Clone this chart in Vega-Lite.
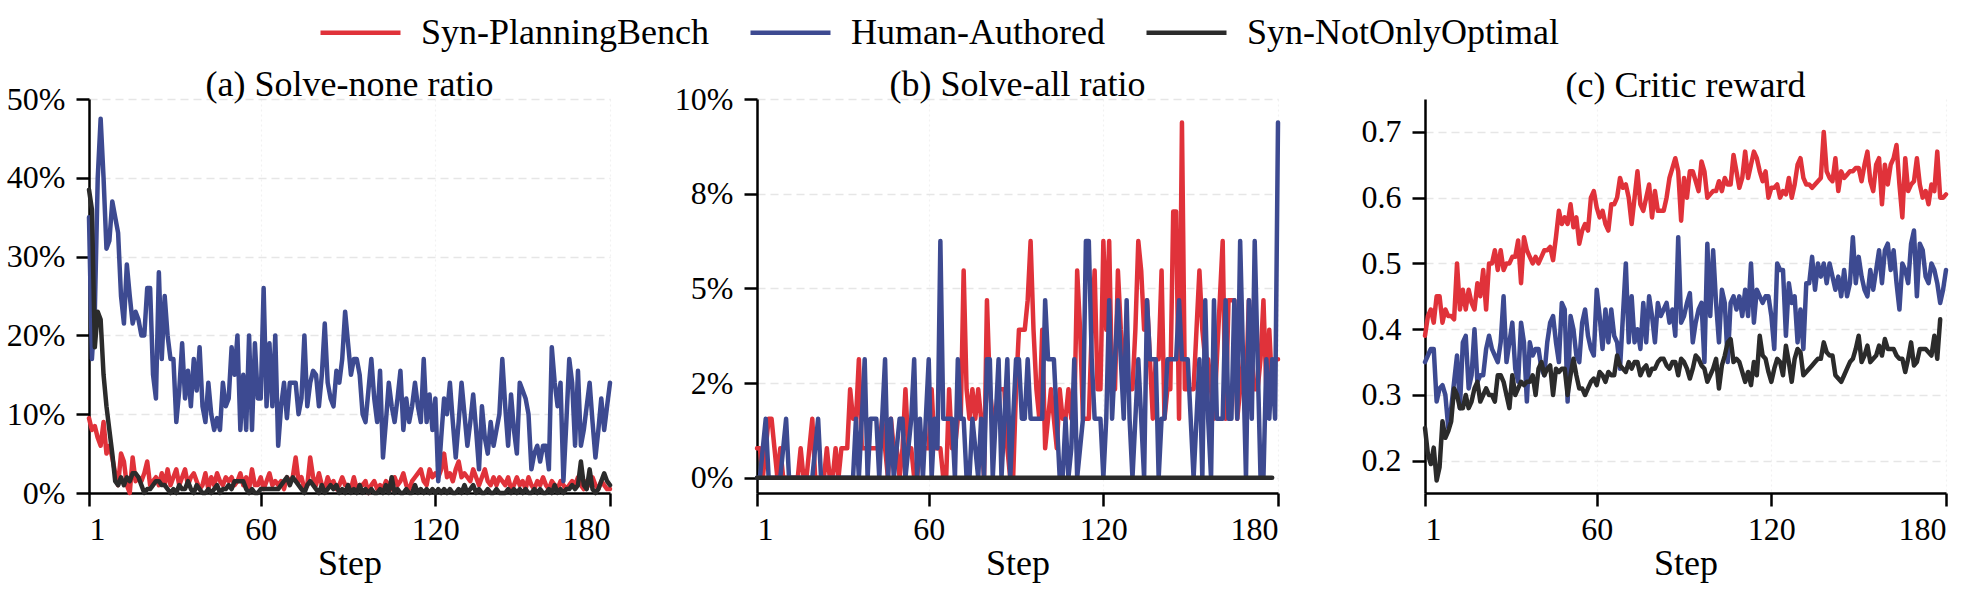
{
"$schema": "https://vega.github.io/schema/vega-lite/v6.json",
"background": "white",
"padding": {"left": 6, "top": -10, "right": 5, "bottom": 5},
"config": {
  "font": "Liberation Serif",
  "view": {"stroke": null},
  "axis": {"domainColor": "black", "domainWidth": 2.5, "tickColor": "black", "tickWidth": 2.5, "tickSize": 13, "labelFont": "Liberation Serif", "labelFontSize": 32, "labelColor": "black", "labelPadding": 11, "titleFont": "Liberation Serif", "titleFontSize": 36, "titleFontWeight": "normal", "titleColor": "black", "gridColor": "#e6e6e6", "gridDash": [8, 5], "gridWidth": 1.5},
  "axisX": {"gridColor": "#f2f2f2", "gridDash": [2, 3], "gridWidth": 1.2, "labelPadding": 8, "titlePadding": 1},
  "title": {"font": "Liberation Serif", "fontSize": 36, "fontWeight": "normal", "color": "black", "frame": "group", "anchor": "middle", "offset": 8, "baseline": "alphabetic"},
  "legend": {"labelFont": "Liberation Serif", "labelFontSize": 36, "labelColor": "black", "labelLimit": 0}
},
"datasets": {
"a": [
{"step":1,"P":9.5,"H":35,"N":38.5},{"step":2,"P":8,"H":17,"N":36},{"step":3,"P":8.5,"H":23,"N":18.5},{"step":4,"P":7,"H":40,"N":23},{"step":5,"P":6,"H":47.5,"N":22},{"step":6,"P":9,"H":40,"N":15},{"step":7,"P":5,"H":31,"N":11},{"step":8,"P":6,"H":32,"N":8},{"step":9,"P":4.5,"H":37,"N":5},{"step":10,"P":2.5,"H":35,"N":1.5},
{"step":11,"P":1,"H":33,"N":1},{"step":12,"P":5,"H":25,"N":2},{"step":13,"P":4,"H":21.5,"N":1},{"step":14,"P":1,"H":29,"N":2},{"step":15,"P":0,"H":25,"N":1.5},{"step":16,"P":4.5,"H":21.5,"N":2.5},{"step":17,"P":1.5,"H":23,"N":2.5},{"step":18,"P":2,"H":22,"N":2},{"step":19,"P":1.5,"H":20,"N":1},{"step":20,"P":2.5,"H":20,"N":0},
{"step":21,"P":4,"H":26,"N":0.5},{"step":22,"P":1,"H":26,"N":0.5},{"step":23,"P":1.5,"H":15,"N":1},{"step":24,"P":2,"H":12,"N":1.5},{"step":25,"P":1,"H":28,"N":1.5},{"step":26,"P":2.5,"H":17,"N":1},{"step":27,"P":1,"H":25,"N":1},{"step":28,"P":3,"H":20,"N":0.5},{"step":29,"P":1,"H":17,"N":0},{"step":30,"P":2,"H":17,"N":0.5},
{"step":31,"P":3,"H":9,"N":0},{"step":32,"P":1,"H":13,"N":1},{"step":33,"P":2,"H":19,"N":0.5},{"step":34,"P":3,"H":12,"N":0.5},{"step":35,"P":1,"H":15.5,"N":1.5},{"step":36,"P":2,"H":11,"N":0.5},{"step":37,"P":2.5,"H":17,"N":0},{"step":38,"P":1.5,"H":13,"N":1},{"step":39,"P":0.5,"H":18.5,"N":0.5},{"step":40,"P":1,"H":11,"N":0},
{"step":41,"P":2.5,"H":9,"N":0},{"step":42,"P":0.5,"H":14,"N":0.5},{"step":43,"P":2,"H":10,"N":0},{"step":44,"P":1,"H":8,"N":0.5},{"step":45,"P":2.5,"H":9.5,"N":1},{"step":46,"P":1.5,"H":8,"N":0},{"step":47,"P":1,"H":14,"N":0.5},{"step":48,"P":2,"H":11,"N":0.5},{"step":49,"P":1.5,"H":12,"N":1},{"step":50,"P":2,"H":18.5,"N":0.5},
{"step":51,"P":1,"H":15,"N":1.5},{"step":52,"P":1.5,"H":20,"N":1.5},{"step":53,"P":2.5,"H":8,"N":1.5},{"step":54,"P":1,"H":15,"N":1.5},{"step":55,"P":2,"H":8,"N":0.5},{"step":56,"P":0.5,"H":20,"N":0},{"step":57,"P":3,"H":8,"N":0.5},{"step":58,"P":1,"H":19,"N":0},{"step":59,"P":1,"H":12,"N":0},{"step":60,"P":2,"H":12,"N":0.5},
{"step":61,"P":0.5,"H":26,"N":0.5},{"step":62,"P":1.5,"H":11,"N":0.5},{"step":63,"P":2.5,"H":19,"N":0.5},{"step":64,"P":1,"H":11,"N":0.5},{"step":65,"P":1.5,"H":20,"N":0.5},{"step":66,"P":1,"H":6,"N":0.5},{"step":67,"P":1.5,"H":11,"N":1},{"step":68,"P":0.5,"H":14,"N":1.5},{"step":69,"P":2,"H":9.5,"N":2},{"step":70,"P":1.5,"H":14,"N":1},
{"step":71,"P":2,"H":14,"N":2},{"step":72,"P":4.5,"H":14,"N":1.5},{"step":73,"P":1.5,"H":10,"N":1},{"step":74,"P":2,"H":12,"N":0.5},{"step":75,"P":0.5,"H":20,"N":0},{"step":76,"P":1,"H":11,"N":1},{"step":77,"P":4.5,"H":14,"N":1.5},{"step":78,"P":2,"H":15.5,"N":1},{"step":79,"P":1,"H":15,"N":0.5},{"step":80,"P":2.5,"H":11,"N":0},
{"step":81,"P":1,"H":15,"N":1},{"step":82,"P":0.5,"H":21.5,"N":0},{"step":83,"P":2,"H":14,"N":0.5},{"step":84,"P":1,"H":12,"N":1},{"step":85,"P":1.5,"H":11,"N":0.5},{"step":86,"P":0.5,"H":15.5,"N":1},{"step":87,"P":1,"H":14,"N":0},{"step":88,"P":2,"H":17,"N":0.5},{"step":89,"P":1,"H":23,"N":0},{"step":90,"P":1,"H":19,"N":1},
{"step":91,"P":0.5,"H":15,"N":0},{"step":92,"P":2,"H":17,"N":0.5},{"step":93,"P":0.5,"H":17,"N":0},{"step":94,"P":1,"H":15,"N":1},{"step":95,"P":1,"H":10,"N":0},{"step":96,"P":1.5,"H":9,"N":0.5},{"step":97,"P":0,"H":13,"N":0},{"step":98,"P":1,"H":17,"N":0.5},{"step":99,"P":1.5,"H":12,"N":0},{"step":100,"P":0.5,"H":9,"N":0},
{"step":101,"P":1,"H":15.5,"N":0.5},{"step":102,"P":0.5,"H":4.5,"N":0},{"step":103,"P":1.5,"H":9,"N":1},{"step":104,"P":1,"H":14,"N":0},{"step":105,"P":0.5,"H":11,"N":2},{"step":106,"P":2,"H":9,"N":0},{"step":107,"P":1,"H":12,"N":0.5},{"step":108,"P":1.5,"H":15.5,"N":0},{"step":109,"P":2.5,"H":8,"N":0},{"step":110,"P":1,"H":12,"N":0.5},
{"step":111,"P":0.5,"H":9,"N":0},{"step":112,"P":1.5,"H":11,"N":0},{"step":113,"P":2,"H":14,"N":1},{"step":114,"P":2.5,"H":11,"N":0},{"step":115,"P":3,"H":9,"N":0.5},{"step":116,"P":1.5,"H":17,"N":0},{"step":117,"P":1,"H":9,"N":0.5},{"step":118,"P":3,"H":12.5,"N":0},{"step":119,"P":2,"H":8,"N":0.5},{"step":120,"P":2.5,"H":12,"N":0},
{"step":121,"P":2,"H":1.5,"N":0.5},{"step":122,"P":3,"H":7,"N":0},{"step":123,"P":5,"H":12,"N":0.5},{"step":124,"P":2,"H":10,"N":0},{"step":125,"P":2.5,"H":14,"N":0.5},{"step":126,"P":1.5,"H":9,"N":0},{"step":127,"P":3,"H":4.5,"N":0},{"step":128,"P":4,"H":9,"N":0.5},{"step":129,"P":2,"H":14,"N":0},{"step":130,"P":2.5,"H":10,"N":1},
{"step":131,"P":2,"H":6,"N":0},{"step":132,"P":1.5,"H":9,"N":0.5},{"step":133,"P":3,"H":12.5,"N":1},{"step":134,"P":2,"H":8,"N":0},{"step":135,"P":1,"H":3,"N":0.5},{"step":136,"P":2,"H":11,"N":0},{"step":137,"P":3,"H":7,"N":0},{"step":138,"P":1.5,"H":5,"N":0.5},{"step":139,"P":1,"H":9,"N":0},{"step":140,"P":2,"H":6,"N":0},
{"step":141,"P":1,"H":8,"N":0.5},{"step":142,"P":2,"H":10,"N":0},{"step":143,"P":1.5,"H":17,"N":0},{"step":144,"P":1,"H":11,"N":0},{"step":145,"P":2,"H":6,"N":0.5},{"step":146,"P":0.5,"H":12.5,"N":0},{"step":147,"P":1,"H":8,"N":0.5},{"step":148,"P":2,"H":5,"N":0},{"step":149,"P":1,"H":14,"N":0.5},{"step":150,"P":1.5,"H":13,"N":0},
{"step":151,"P":0.5,"H":12,"N":0.5},{"step":152,"P":2,"H":10,"N":0},{"step":153,"P":1,"H":3,"N":0},{"step":154,"P":0.5,"H":5,"N":0.5},{"step":155,"P":1.5,"H":6,"N":0},{"step":156,"P":1,"H":4,"N":0.5},{"step":157,"P":2,"H":6,"N":0},{"step":158,"P":1,"H":6,"N":0},{"step":159,"P":0.5,"H":3,"N":0.5},{"step":160,"P":1.5,"H":18.5,"N":0},
{"step":161,"P":1,"H":14,"N":1},{"step":162,"P":0.5,"H":11,"N":0},{"step":163,"P":1.5,"H":14,"N":0.5},{"step":164,"P":1,"H":1.5,"N":0},{"step":165,"P":0.5,"H":9,"N":0.5},{"step":166,"P":1,"H":17,"N":0.5},{"step":167,"P":1.5,"H":14,"N":1},{"step":168,"P":1,"H":6,"N":0.5},{"step":169,"P":2,"H":15.5,"N":1},{"step":170,"P":1,"H":6,"N":4},
{"step":171,"P":0.5,"H":8,"N":1},{"step":172,"P":1.5,"H":11,"N":0.5},{"step":173,"P":1,"H":14,"N":3},{"step":174,"P":2,"H":9,"N":0.5},{"step":175,"P":1,"H":4.5,"N":0},{"step":176,"P":0.5,"H":8,"N":0.5},{"step":177,"P":1.5,"H":12,"N":1.5},{"step":178,"P":1,"H":8,"N":2.5},{"step":179,"P":0.5,"H":11,"N":1.5},{"step":180,"P":0.5,"H":14,"N":1}
],
"b": [
{"step":1,"P":0.78,"H":0,"N":0},{"step":2,"P":0.78,"H":0,"N":0},{"step":3,"P":0,"H":0.78,"N":0},{"step":4,"P":0.78,"H":1.56,"N":0},{"step":5,"P":1.56,"H":0,"N":0},{"step":6,"P":1.56,"H":0,"N":0},{"step":7,"P":0.78,"H":0,"N":0},{"step":8,"P":0,"H":0,"N":0},{"step":9,"P":0.78,"H":0,"N":0},{"step":10,"P":0,"H":0.78,"N":0},
{"step":11,"P":0,"H":1.56,"N":0},{"step":12,"P":0,"H":0,"N":0},{"step":13,"P":0,"H":0,"N":0},{"step":14,"P":0,"H":0,"N":0},{"step":15,"P":0,"H":0,"N":0},{"step":16,"P":0.78,"H":0,"N":0},{"step":17,"P":0,"H":0,"N":0},{"step":18,"P":0,"H":0,"N":0},{"step":19,"P":0.78,"H":0,"N":0},{"step":20,"P":1.56,"H":0,"N":0},
{"step":21,"P":0,"H":0.78,"N":0},{"step":22,"P":0,"H":1.56,"N":0},{"step":23,"P":0,"H":0,"N":0},{"step":24,"P":0,"H":0,"N":0},{"step":25,"P":0.78,"H":0,"N":0},{"step":26,"P":0,"H":0,"N":0},{"step":27,"P":0,"H":0,"N":0},{"step":28,"P":0.78,"H":0,"N":0},{"step":29,"P":0,"H":0,"N":0},{"step":30,"P":0.78,"H":0,"N":0},
{"step":31,"P":0.78,"H":0,"N":0},{"step":32,"P":0.78,"H":0,"N":0},{"step":33,"P":2.34,"H":0,"N":0},{"step":34,"P":1.56,"H":0,"N":0},{"step":35,"P":1.56,"H":1.56,"N":0},{"step":36,"P":3.13,"H":0,"N":0},{"step":37,"P":0.78,"H":1.56,"N":0},{"step":38,"P":0.78,"H":3.13,"N":0},{"step":39,"P":0.78,"H":0,"N":0},{"step":40,"P":0.78,"H":1.56,"N":0},
{"step":41,"P":0.78,"H":1.56,"N":0},{"step":42,"P":0.78,"H":1.56,"N":0},{"step":43,"P":0.78,"H":0,"N":0},{"step":44,"P":1.56,"H":1.56,"N":0},{"step":45,"P":0.78,"H":3.13,"N":0},{"step":46,"P":0,"H":0,"N":0},{"step":47,"P":1.56,"H":1.56,"N":0},{"step":48,"P":0.78,"H":0,"N":0},{"step":49,"P":0.78,"H":0.78,"N":0},{"step":50,"P":0,"H":1.56,"N":0},
{"step":51,"P":0.78,"H":1.56,"N":0},{"step":52,"P":2.34,"H":0,"N":0},{"step":53,"P":0.78,"H":0.78,"N":0},{"step":54,"P":0.78,"H":1.56,"N":0},{"step":55,"P":0,"H":3.13,"N":0},{"step":56,"P":0,"H":0,"N":0},{"step":57,"P":0.78,"H":1.56,"N":0},{"step":58,"P":0.78,"H":0,"N":0},{"step":59,"P":0.78,"H":1.56,"N":0},{"step":60,"P":0.78,"H":3.13,"N":0},
{"step":61,"P":2.34,"H":0,"N":0},{"step":62,"P":0.78,"H":1.56,"N":0},{"step":63,"P":0.78,"H":0.78,"N":0},{"step":64,"P":0.78,"H":6.25,"N":0},{"step":65,"P":0,"H":1.56,"N":0},{"step":66,"P":0,"H":1.56,"N":0},{"step":67,"P":2.34,"H":1.56,"N":0},{"step":68,"P":0.78,"H":1.56,"N":0},{"step":69,"P":0.78,"H":0,"N":0},{"step":70,"P":1.56,"H":3.13,"N":0},
{"step":71,"P":1.56,"H":1.56,"N":0},{"step":72,"P":5.47,"H":1.56,"N":0},{"step":73,"P":2.34,"H":0,"N":0},{"step":74,"P":1.56,"H":0,"N":0},{"step":75,"P":2.34,"H":1.56,"N":0},{"step":76,"P":1.56,"H":0.78,"N":0},{"step":77,"P":2.34,"H":0,"N":0},{"step":78,"P":1.56,"H":1.56,"N":0},{"step":79,"P":0,"H":0,"N":0},{"step":80,"P":4.69,"H":3.13,"N":0},
{"step":81,"P":2.34,"H":3.13,"N":0},{"step":82,"P":1.56,"H":0,"N":0},{"step":83,"P":1.56,"H":1.56,"N":0},{"step":84,"P":2.34,"H":3.13,"N":0},{"step":85,"P":2.34,"H":0,"N":0},{"step":86,"P":2.34,"H":1.56,"N":0},{"step":87,"P":0.78,"H":3.13,"N":0},{"step":88,"P":0,"H":0,"N":0},{"step":89,"P":0,"H":1.56,"N":0},{"step":90,"P":2.34,"H":3.13,"N":0},
{"step":91,"P":3.91,"H":3.13,"N":0},{"step":92,"P":3.91,"H":1.56,"N":0},{"step":93,"P":3.91,"H":1.56,"N":0},{"step":94,"P":4.69,"H":3.13,"N":0},{"step":95,"P":6.25,"H":1.56,"N":0},{"step":96,"P":3.91,"H":1.56,"N":0},{"step":97,"P":2.34,"H":1.56,"N":0},{"step":98,"P":1.56,"H":1.56,"N":0},{"step":99,"P":3.91,"H":1.56,"N":0},{"step":100,"P":0.78,"H":4.69,"N":0},
{"step":101,"P":1.56,"H":3.13,"N":0},{"step":102,"P":2.34,"H":3.13,"N":0},{"step":103,"P":1.56,"H":3.13,"N":0},{"step":104,"P":0.78,"H":1.56,"N":0},{"step":105,"P":2.34,"H":0,"N":0},{"step":106,"P":1.56,"H":0,"N":0},{"step":107,"P":1.56,"H":1.56,"N":0},{"step":108,"P":2.34,"H":0,"N":0},{"step":109,"P":1.56,"H":0.78,"N":0},{"step":110,"P":1.56,"H":3.13,"N":0},
{"step":111,"P":5.47,"H":0,"N":0},{"step":112,"P":3.91,"H":0.78,"N":0},{"step":113,"P":1.56,"H":1.56,"N":0},{"step":114,"P":1.56,"H":6.25,"N":0},{"step":115,"P":1.56,"H":6.25,"N":0},{"step":116,"P":3.91,"H":3.13,"N":0},{"step":117,"P":5.47,"H":1.56,"N":0},{"step":118,"P":2.34,"H":1.56,"N":0},{"step":119,"P":2.34,"H":1.56,"N":0},{"step":120,"P":6.25,"H":0,"N":0},
{"step":121,"P":3.91,"H":1.56,"N":0},{"step":122,"P":6.25,"H":4.69,"N":0},{"step":123,"P":2.34,"H":1.56,"N":0},{"step":124,"P":2.34,"H":3.13,"N":0},{"step":125,"P":5.47,"H":4.69,"N":0},{"step":126,"P":3.91,"H":3.13,"N":0},{"step":127,"P":3.13,"H":1.56,"N":0},{"step":128,"P":2.34,"H":4.69,"N":0},{"step":129,"P":2.34,"H":1.56,"N":0},{"step":130,"P":2.34,"H":0,"N":0},
{"step":131,"P":3.91,"H":1.56,"N":0},{"step":132,"P":6.25,"H":3.13,"N":0},{"step":133,"P":5.47,"H":1.56,"N":0},{"step":134,"P":3.91,"H":0,"N":0},{"step":135,"P":4.69,"H":4.69,"N":0},{"step":136,"P":3.13,"H":3.13,"N":0},{"step":137,"P":1.56,"H":3.13,"N":0},{"step":138,"P":3.13,"H":3.13,"N":0},{"step":139,"P":3.13,"H":0,"N":0},{"step":140,"P":5.47,"H":1.56,"N":0},
{"step":141,"P":1.56,"H":1.56,"N":0},{"step":142,"P":2.34,"H":3.13,"N":0},{"step":143,"P":2.34,"H":3.13,"N":0},{"step":144,"P":7.03,"H":3.13,"N":0},{"step":145,"P":7.03,"H":3.13,"N":0},{"step":146,"P":1.56,"H":4.69,"N":0},{"step":147,"P":9.38,"H":3.13,"N":0},{"step":148,"P":2.34,"H":3.13,"N":0},{"step":149,"P":2.34,"H":3.13,"N":0},{"step":150,"P":2.34,"H":1.56,"N":0},
{"step":151,"P":2.34,"H":0,"N":0},{"step":152,"P":3.91,"H":1.56,"N":0},{"step":153,"P":5.47,"H":3.13,"N":0},{"step":154,"P":3.91,"H":0,"N":0},{"step":155,"P":3.13,"H":4.69,"N":0},{"step":156,"P":3.13,"H":1.56,"N":0},{"step":157,"P":2.34,"H":0,"N":0},{"step":158,"P":1.56,"H":4.69,"N":0},{"step":159,"P":3.13,"H":1.56,"N":0},{"step":160,"P":4.69,"H":1.56,"N":0},
{"step":161,"P":6.25,"H":1.56,"N":0},{"step":162,"P":1.56,"H":4.69,"N":0},{"step":163,"P":4.69,"H":1.56,"N":0},{"step":164,"P":4.69,"H":1.56,"N":0},{"step":165,"P":4.69,"H":4.69,"N":0},{"step":166,"P":1.56,"H":1.56,"N":0},{"step":167,"P":2.34,"H":6.25,"N":0},{"step":168,"P":3.13,"H":3.13,"N":0},{"step":169,"P":2.34,"H":0,"N":0},{"step":170,"P":4.69,"H":4.69,"N":0},
{"step":171,"P":3.13,"H":1.56,"N":0},{"step":172,"P":2.34,"H":6.25,"N":0},{"step":173,"P":2.34,"H":3.13,"N":0},{"step":174,"P":3.13,"H":0,"N":0},{"step":175,"P":4.69,"H":0,"N":0},{"step":176,"P":2.34,"H":3.13,"N":0},{"step":177,"P":3.91,"H":1.56,"N":0},{"step":178,"P":2.34,"H":3.13,"N":0},{"step":179,"P":3.13,"H":1.56},{"step":180,"P":3.13,"H":9.38}
],
"c": [
{"step":1,"P":0.39,"H":0.35,"N":0.25},{"step":2,"P":0.42,"H":0.36,"N":0.21},{"step":3,"P":0.43,"H":0.37,"N":0.195},{"step":4,"P":0.41,"H":0.37,"N":0.22},{"step":5,"P":0.45,"H":0.29,"N":0.17},{"step":6,"P":0.45,"H":0.31,"N":0.19},{"step":7,"P":0.41,"H":0.315,"N":0.26},{"step":8,"P":0.43,"H":0.3,"N":0.235},{"step":9,"P":0.42,"H":0.25,"N":0.245},{"step":10,"P":0.42,"H":0.28,"N":0.26},
{"step":11,"P":0.415,"H":0.32,"N":0.31},{"step":12,"P":0.5,"H":0.36,"N":0.3},{"step":13,"P":0.43,"H":0.28,"N":0.28},{"step":14,"P":0.46,"H":0.38,"N":0.28},{"step":15,"P":0.43,"H":0.39,"N":0.3},{"step":16,"P":0.46,"H":0.31,"N":0.28},{"step":17,"P":0.44,"H":0.33,"N":0.29},{"step":18,"P":0.43,"H":0.4,"N":0.31},{"step":19,"P":0.47,"H":0.32,"N":0.32},{"step":20,"P":0.45,"H":0.33,"N":0.29},
{"step":21,"P":0.49,"H":0.33,"N":0.3},{"step":22,"P":0.43,"H":0.37,"N":0.31},{"step":23,"P":0.5,"H":0.39,"N":0.3},{"step":24,"P":0.5,"H":0.37,"N":0.3},{"step":25,"P":0.52,"H":0.36,"N":0.29},{"step":26,"P":0.49,"H":0.35,"N":0.33},{"step":27,"P":0.52,"H":0.38,"N":0.33},{"step":28,"P":0.49,"H":0.45,"N":0.32},{"step":29,"P":0.5,"H":0.35,"N":0.3},{"step":30,"P":0.5,"H":0.38,"N":0.28},
{"step":31,"P":0.51,"H":0.41,"N":0.33},{"step":32,"P":0.51,"H":0.34,"N":0.3},{"step":33,"P":0.535,"H":0.32,"N":0.31},{"step":34,"P":0.47,"H":0.41,"N":0.32},{"step":35,"P":0.54,"H":0.38,"N":0.315},{"step":36,"P":0.52,"H":0.29,"N":0.32},{"step":37,"P":0.51,"H":0.38,"N":0.32},{"step":38,"P":0.5,"H":0.36,"N":0.33},{"step":39,"P":0.51,"H":0.37,"N":0.3},{"step":40,"P":0.5,"H":0.37,"N":0.34},
{"step":41,"P":0.51,"H":0.34,"N":0.35},{"step":42,"P":0.52,"H":0.33,"N":0.33},{"step":43,"P":0.52,"H":0.38,"N":0.34},{"step":44,"P":0.525,"H":0.41,"N":0.345},{"step":45,"P":0.505,"H":0.42,"N":0.3},{"step":46,"P":0.54,"H":0.38,"N":0.34},{"step":47,"P":0.58,"H":0.35,"N":0.335},{"step":48,"P":0.56,"H":0.44,"N":0.34},{"step":49,"P":0.57,"H":0.43,"N":0.34},{"step":50,"P":0.56,"H":0.29,"N":0.3},
{"step":51,"P":0.59,"H":0.42,"N":0.33},{"step":52,"P":0.555,"H":0.4,"N":0.355},{"step":53,"P":0.57,"H":0.36,"N":0.33},{"step":54,"P":0.53,"H":0.35,"N":0.31},{"step":55,"P":0.55,"H":0.41,"N":0.31},{"step":56,"P":0.56,"H":0.43,"N":0.3},{"step":57,"P":0.55,"H":0.39,"N":0.31},{"step":58,"P":0.6,"H":0.37,"N":0.32},{"step":59,"P":0.61,"H":0.36,"N":0.325},{"step":60,"P":0.585,"H":0.46,"N":0.315},
{"step":61,"P":0.57,"H":0.42,"N":0.335},{"step":62,"P":0.58,"H":0.37,"N":0.33},{"step":63,"P":0.56,"H":0.43,"N":0.32},{"step":64,"P":0.55,"H":0.38,"N":0.335},{"step":65,"P":0.59,"H":0.43,"N":0.33},{"step":66,"P":0.59,"H":0.39,"N":0.33},{"step":67,"P":0.6,"H":0.38,"N":0.36},{"step":68,"P":0.63,"H":0.34,"N":0.345},{"step":69,"P":0.615,"H":0.42,"N":0.34},{"step":70,"P":0.62,"H":0.5,"N":0.335},
{"step":71,"P":0.6,"H":0.38,"N":0.35},{"step":72,"P":0.56,"H":0.45,"N":0.34},{"step":73,"P":0.6,"H":0.38,"N":0.35},{"step":74,"P":0.64,"H":0.4,"N":0.35},{"step":75,"P":0.59,"H":0.37,"N":0.33},{"step":76,"P":0.58,"H":0.44,"N":0.34},{"step":77,"P":0.6,"H":0.38,"N":0.345},{"step":78,"P":0.62,"H":0.45,"N":0.33},{"step":79,"P":0.57,"H":0.42,"N":0.34},{"step":80,"P":0.61,"H":0.38,"N":0.34},
{"step":81,"P":0.58,"H":0.44,"N":0.35},{"step":82,"P":0.58,"H":0.42,"N":0.355},{"step":83,"P":0.58,"H":0.43,"N":0.355},{"step":84,"P":0.6,"H":0.44,"N":0.345},{"step":85,"P":0.63,"H":0.41,"N":0.34},{"step":86,"P":0.645,"H":0.43,"N":0.35},{"step":87,"P":0.66,"H":0.39,"N":0.35},{"step":88,"P":0.64,"H":0.54,"N":0.33},{"step":89,"P":0.565,"H":0.41,"N":0.355},{"step":90,"P":0.63,"H":0.42,"N":0.35},
{"step":91,"P":0.6,"H":0.44,"N":0.34},{"step":92,"P":0.64,"H":0.455,"N":0.325},{"step":93,"P":0.64,"H":0.38,"N":0.34},{"step":94,"P":0.625,"H":0.41,"N":0.36},{"step":95,"P":0.61,"H":0.43,"N":0.355},{"step":96,"P":0.655,"H":0.44,"N":0.345},{"step":97,"P":0.64,"H":0.35,"N":0.34},{"step":98,"P":0.6,"H":0.53,"N":0.32},{"step":99,"P":0.605,"H":0.42,"N":0.33},{"step":100,"P":0.61,"H":0.52,"N":0.34},
{"step":101,"P":0.61,"H":0.44,"N":0.355},{"step":102,"P":0.625,"H":0.38,"N":0.31},{"step":103,"P":0.61,"H":0.46,"N":0.345},{"step":104,"P":0.63,"H":0.44,"N":0.36},{"step":105,"P":0.62,"H":0.35,"N":0.38},{"step":106,"P":0.62,"H":0.44,"N":0.385},{"step":107,"P":0.665,"H":0.45,"N":0.35},{"step":108,"P":0.64,"H":0.43,"N":0.355},{"step":109,"P":0.615,"H":0.45,"N":0.35},{"step":110,"P":0.63,"H":0.42,"N":0.335},
{"step":111,"P":0.67,"H":0.46,"N":0.32},{"step":112,"P":0.63,"H":0.42,"N":0.335},{"step":113,"P":0.65,"H":0.5,"N":0.315},{"step":114,"P":0.67,"H":0.41,"N":0.35},{"step":115,"P":0.66,"H":0.46,"N":0.33},{"step":116,"P":0.64,"H":0.45,"N":0.39},{"step":117,"P":0.625,"H":0.44,"N":0.36},{"step":118,"P":0.64,"H":0.45,"N":0.355},{"step":119,"P":0.6,"H":0.45,"N":0.335},{"step":120,"P":0.615,"H":0.42,"N":0.32},
{"step":121,"P":0.615,"H":0.37,"N":0.34},{"step":122,"P":0.62,"H":0.5,"N":0.355},{"step":123,"P":0.6,"H":0.49,"N":0.35},{"step":124,"P":0.61,"H":0.49,"N":0.33},{"step":125,"P":0.605,"H":0.39,"N":0.375},{"step":126,"P":0.63,"H":0.47,"N":0.35},{"step":127,"P":0.6,"H":0.44,"N":0.32},{"step":128,"P":0.62,"H":0.45,"N":0.355},{"step":129,"P":0.65,"H":0.38,"N":0.37},{"step":130,"P":0.66,"H":0.43,"N":0.365},
{"step":131,"P":0.63,"H":0.37,"N":0.33},{"step":132,"P":0.62,"H":0.47,"N":0.335},{"step":133,"P":0.62,"H":0.47,"N":0.34},{"step":134,"P":0.615,"H":0.51,"N":0.345},{"step":135,"P":0.62,"H":0.46,"N":0.35},{"step":136,"P":0.625,"H":0.5,"N":0.355},{"step":137,"P":0.63,"H":0.48,"N":0.355},{"step":138,"P":0.7,"H":0.5,"N":0.38},{"step":139,"P":0.64,"H":0.47,"N":0.365},{"step":140,"P":0.63,"H":0.5,"N":0.36},
{"step":141,"P":0.625,"H":0.48,"N":0.36},{"step":142,"P":0.66,"H":0.46,"N":0.33},{"step":143,"P":0.61,"H":0.48,"N":0.325},{"step":144,"P":0.64,"H":0.45,"N":0.32},{"step":145,"P":0.63,"H":0.49,"N":0.33},{"step":146,"P":0.635,"H":0.45,"N":0.34},{"step":147,"P":0.64,"H":0.47,"N":0.35},{"step":148,"P":0.64,"H":0.54,"N":0.355},{"step":149,"P":0.645,"H":0.47,"N":0.37},{"step":150,"P":0.645,"H":0.51,"N":0.39},
{"step":151,"P":0.625,"H":0.48,"N":0.35},{"step":152,"P":0.65,"H":0.46,"N":0.36},{"step":153,"P":0.67,"H":0.45,"N":0.375},{"step":154,"P":0.625,"H":0.49,"N":0.35},{"step":155,"P":0.61,"H":0.46,"N":0.355},{"step":156,"P":0.65,"H":0.49,"N":0.36},{"step":157,"P":0.66,"H":0.52,"N":0.375},{"step":158,"P":0.59,"H":0.47,"N":0.36},{"step":159,"P":0.65,"H":0.52,"N":0.385},{"step":160,"P":0.62,"H":0.53,"N":0.37},
{"step":161,"P":0.65,"H":0.49,"N":0.37},{"step":162,"P":0.66,"H":0.52,"N":0.37},{"step":163,"P":0.68,"H":0.47,"N":0.36},{"step":164,"P":0.62,"H":0.43,"N":0.355},{"step":165,"P":0.57,"H":0.5,"N":0.355},{"step":166,"P":0.66,"H":0.49,"N":0.335},{"step":167,"P":0.61,"H":0.47,"N":0.355},{"step":168,"P":0.62,"H":0.53,"N":0.38},{"step":169,"P":0.625,"H":0.55,"N":0.345},{"step":170,"P":0.66,"H":0.45,"N":0.35},
{"step":171,"P":0.62,"H":0.53,"N":0.37},{"step":172,"P":0.6,"H":0.52,"N":0.37},{"step":173,"P":0.61,"H":0.48,"N":0.37},{"step":174,"P":0.59,"H":0.47,"N":0.365},{"step":175,"P":0.62,"H":0.5,"N":0.36},{"step":176,"P":0.61,"H":0.49,"N":0.39},{"step":177,"P":0.67,"H":0.47,"N":0.355},{"step":178,"P":0.6,"H":0.44,"N":0.415},{"step":179,"P":0.6,"H":0.46},{"step":180,"P":0.605,"H":0.49}
]
},
"spacing": 147,
"bounds": "flush",
"resolve": {"scale": {"x": "independent", "y": "independent", "color": "shared"}, "legend": {"color": "shared"}},
"hconcat": [
{
  "width": 521, "height": 394,
  "title": {"text": "(a) Solve-none ratio", "dy": 29},
  "data": {"name": "a"},
  "transform": [{"fold": ["P", "H", "N"], "as": ["series", "v"]}],
  "mark": {"type": "line", "strokeWidth": 4.5, "strokeJoin": "round", "strokeCap": "round"},
  "encoding": {
    "x": {"field": "step", "type": "quantitative", "scale": {"domain": [1, 180], "nice": false, "zero": false}, "axis": {"values": [1, 60, 120, 180], "title": "Step", "grid": true}},
    "y": {"field": "v", "type": "quantitative", "scale": {"domain": [0, 50], "nice": false}, "axis": {"values": [0, 10, 20, 30, 40, 50], "labelExpr": "datum.value + '%'", "title": null, "grid": true}},
    "color": {"field": "series", "type": "nominal", "scale": {"domain": ["P", "H", "N"], "range": ["#e0323a", "#3d4a91", "#2b2b2b"]},
      "legend": {"orient": "none", "legendX": 229, "legendY": -109, "direction": "horizontal", "title": null, "symbolType": "stroke", "symbolSize": 6400, "symbolStrokeWidth": 4.5, "labelOffset": 18, "columnPadding": 32, "labelExpr": "datum.label == 'P' ? 'Syn-PlanningBench' : datum.label == 'H' ? 'Human-Authored' : 'Syn-NotOnlyOptimal'"}}
  }
},
{
  "width": 521, "height": 394,
  "title": {"text": "(b) Solve-all ratio", "dy": 29},
  "data": {"name": "b"},
  "transform": [{"fold": ["P", "H", "N"], "as": ["series", "v"]}],
  "mark": {"type": "line", "strokeWidth": 4.5, "strokeJoin": "round", "strokeCap": "round"},
  "encoding": {
    "x": {"field": "step", "type": "quantitative", "scale": {"domain": [1, 180], "nice": false, "zero": false}, "axis": {"values": [1, 60, 120, 180], "title": "Step", "grid": true}},
    "y": {"field": "v", "type": "quantitative", "scale": {"domain": [-0.4, 10], "nice": false, "zero": false}, "axis": {"values": [0, 2.5, 5, 7.5, 10], "labelExpr": "datum.value == 2.5 ? '2%' : datum.value == 7.5 ? '8%' : datum.value + '%'", "title": null, "grid": true}},
    "color": {"field": "series", "type": "nominal", "scale": {"domain": ["P", "H", "N"], "range": ["#e0323a", "#3d4a91", "#2b2b2b"]}}
  }
},
{
  "width": 521, "height": 394,
  "title": {"text": "(c) Critic reward", "dy": 14},
  "data": {"name": "c"},
  "transform": [{"fold": ["P", "H", "N"], "as": ["series", "v"]}],
  "mark": {"type": "line", "strokeWidth": 4.5, "strokeJoin": "round", "strokeCap": "round"},
  "encoding": {
    "x": {"field": "step", "type": "quantitative", "scale": {"domain": [1, 180], "nice": false, "zero": false}, "axis": {"values": [1, 60, 120, 180], "title": "Step", "grid": true}},
    "y": {"field": "v", "type": "quantitative", "scale": {"domain": [0.151, 0.75], "nice": false, "zero": false}, "axis": {"values": [0.2, 0.3, 0.4, 0.5, 0.6, 0.7], "format": ".1f", "title": null, "grid": true}},
    "color": {"field": "series", "type": "nominal", "scale": {"domain": ["P", "H", "N"], "range": ["#e0323a", "#3d4a91", "#2b2b2b"]}}
  }
}
]
}
